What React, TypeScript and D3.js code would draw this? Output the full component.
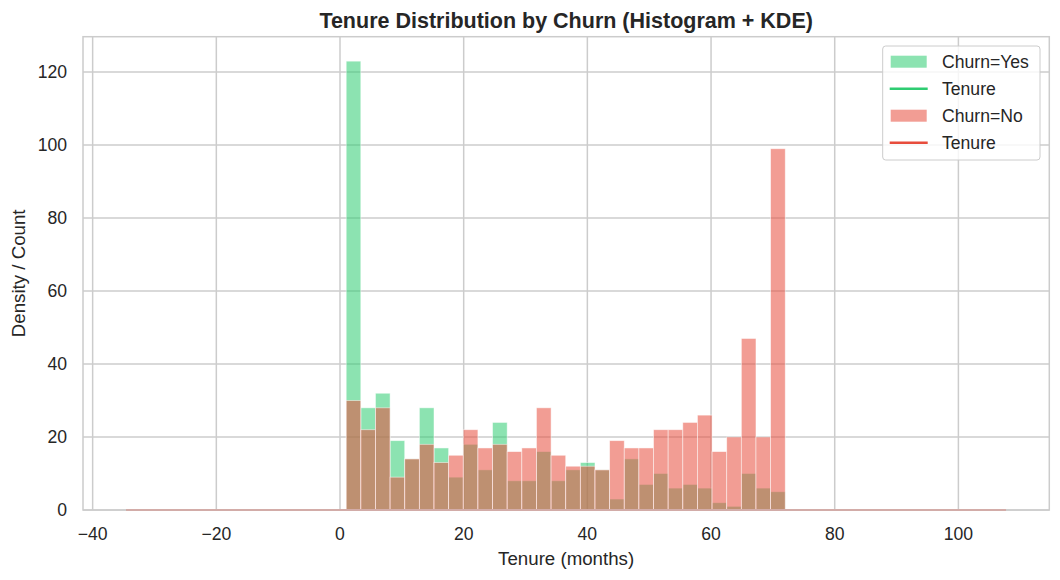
import { useEffect, useRef } from 'react'
import * as d3 from 'd3'

// 30 bins over tenure 1..72
const binStart = 1
const binEnd = 72
const binCount = 30

const churnYes = [123, 28, 32, 19, 14, 28, 17, 9, 18, 11, 24, 8, 8, 16, 8, 11, 13, 11, 3, 14, 7, 10, 6, 7, 6, 2, 1, 10, 6, 5]
const churnNo = [30, 22, 28, 9, 14, 18, 13, 15, 22, 17, 18, 16, 17, 28, 15, 12, 12, 11, 19, 17, 17, 22, 22, 24, 26, 16, 20, 47, 20, 99]

// KDE curves (density scale, flat on the count axis)
const kdeYes = [[-34.6, 0], [107.7, 0]]
const kdeNo = [[-34.6, 0], [107.7, 0]]

const xTicks = [-40, -20, 0, 20, 40, 60, 80, 100]
const yTicks = [0, 20, 40, 60, 80, 100, 120]

const GREEN = '#2ecc71'
const RED = '#e74c3c'
const FONT = "'Liberation Sans', Arial, Helvetica, sans-serif"

export default function App() {
  const svgRef = useRef<SVGSVGElement>(null)

  useEffect(() => {
    if (!svgRef.current) return
    const svg = d3.select(svgRef.current)
    svg.selectAll('*').remove()

    const width = 1060
    const height = 580
    const margin = { top: 36.7, right: 10.7, bottom: 70, left: 83 }
    const innerW = width - margin.left - margin.right
    const innerH = height - margin.top - margin.bottom

    const x = d3.scaleLinear().domain([-41.56, 114.7]).range([0, innerW])
    const y = d3.scaleLinear().domain([0, 129.7]).range([innerH, 0])

    const g = svg.append('g').attr('transform', `translate(${margin.left},${margin.top})`)

    // grid
    g.append('g')
      .selectAll('line')
      .data(xTicks)
      .enter()
      .append('line')
      .attr('x1', d => x(d))
      .attr('x2', d => x(d))
      .attr('y1', 0)
      .attr('y2', innerH)
      .attr('stroke', '#cccccc')
      .attr('stroke-width', 1.5)

    g.append('g')
      .selectAll('line')
      .data(yTicks)
      .enter()
      .append('line')
      .attr('x1', 0)
      .attr('x2', innerW)
      .attr('y1', d => y(d))
      .attr('y2', d => y(d))
      .attr('stroke', '#cccccc')
      .attr('stroke-width', 1.5)

    // histograms
    const binW = (binEnd - binStart) / binCount
    const drawHist = (vals: number[], color: string) => {
      g.append('g')
        .selectAll('rect')
        .data(vals)
        .enter()
        .append('rect')
        .attr('x', (_, i) => x(binStart + i * binW))
        .attr('width', x(binStart + binW) - x(binStart))
        .attr('y', d => y(d))
        .attr('height', d => innerH - y(d))
        .attr('fill', color)
        .attr('fill-opacity', 0.55)
        .attr('stroke', '#ffffff')
        .attr('stroke-opacity', 0.6)
        .attr('stroke-width', 0.8)
    }
    drawHist(churnYes, GREEN)
    drawHist(churnNo, RED)

    // kde lines
    const line = d3.line<number[]>().x(d => x(d[0])).y(d => y(d[1]))
    g.append('path').attr('d', line(kdeYes)).attr('fill', 'none').attr('stroke', GREEN).attr('stroke-width', 2)
    g.append('path').attr('d', line(kdeNo)).attr('fill', 'none').attr('stroke', RED).attr('stroke-width', 2)

    // spines
    g.append('rect')
      .attr('width', innerW)
      .attr('height', innerH)
      .attr('fill', 'none')
      .attr('stroke', '#cccccc')
      .attr('stroke-width', 1.5)

    // tick labels
    g.append('g')
      .selectAll('text')
      .data(xTicks)
      .enter()
      .append('text')
      .attr('x', d => x(d))
      .attr('y', innerH + 30)
      .attr('text-anchor', 'middle')
      .attr('font-size', 17.6)
      .attr('font-family', FONT)
      .attr('fill', '#262626')
      .text(d => (d < 0 ? '\u2212' + Math.abs(d) : String(d)))

    g.append('g')
      .selectAll('text')
      .data(yTicks)
      .enter()
      .append('text')
      .attr('x', -16)
      .attr('y', d => y(d) + 6.4)
      .attr('text-anchor', 'end')
      .attr('font-size', 17.6)
      .attr('font-family', FONT)
      .attr('fill', '#262626')
      .text(d => String(d))

    // axis labels
    svg.append('text')
      .attr('x', margin.left + innerW / 2)
      .attr('y', 565)
      .attr('text-anchor', 'middle')
      .attr('font-size', 18.7)
      .attr('font-family', FONT)
      .attr('fill', '#262626')
      .text('Tenure (months)')

    svg.append('text')
      .attr('transform', `translate(25,${margin.top + innerH / 2}) rotate(-90)`)
      .attr('text-anchor', 'middle')
      .attr('font-size', 18.7)
      .attr('font-family', FONT)
      .attr('fill', '#262626')
      .text('Density / Count')

    // title
    svg.append('text')
      .attr('x', margin.left + innerW / 2)
      .attr('y', 28)
      .attr('text-anchor', 'middle')
      .attr('font-size', 21.5)
      .attr('font-weight', 'bold')
      .attr('font-family', FONT)
      .attr('fill', '#262626')
      .text('Tenure Distribution by Churn (Histogram + KDE)')

    // legend
    const lg = svg.append('g').attr('transform', 'translate(882.7,46)')
    lg.append('rect')
      .attr('width', 157.3)
      .attr('height', 114)
      .attr('rx', 3)
      .attr('fill', '#ffffff')
      .attr('fill-opacity', 0.8)
      .attr('stroke', '#cccccc')
      .attr('stroke-width', 1)
    const items = [
      { label: 'Churn=Yes', color: GREEN, kind: 'patch' },
      { label: 'Tenure', color: GREEN, kind: 'line' },
      { label: 'Churn=No', color: RED, kind: 'patch' },
      { label: 'Tenure', color: RED, kind: 'line' },
    ]
    items.forEach((it, i) => {
      const cy = 15.7 + i * 27
      if (it.kind === 'patch') {
        lg.append('rect')
          .attr('x', 8)
          .attr('y', cy - 6)
          .attr('width', 36)
          .attr('height', 12)
          .attr('fill', it.color)
          .attr('fill-opacity', 0.55)
      } else {
        lg.append('line')
          .attr('x1', 7)
          .attr('x2', 45)
          .attr('y1', cy)
          .attr('y2', cy)
          .attr('stroke', it.color)
          .attr('stroke-width', 2.5)
      }
      lg.append('text')
        .attr('x', 59.3)
        .attr('y', cy + 6.2)
        .attr('font-size', 17.6)
        .attr('font-family', FONT)
        .attr('fill', '#262626')
        .text(it.label)
    })
  }, [])

  return (
    <div style={{ width: 1060, height: 580, margin: -8 }}>
      <svg ref={svgRef} width={1060} height={580} style={{ display: 'block', background: '#ffffff' }} />
    </div>
  )
}
